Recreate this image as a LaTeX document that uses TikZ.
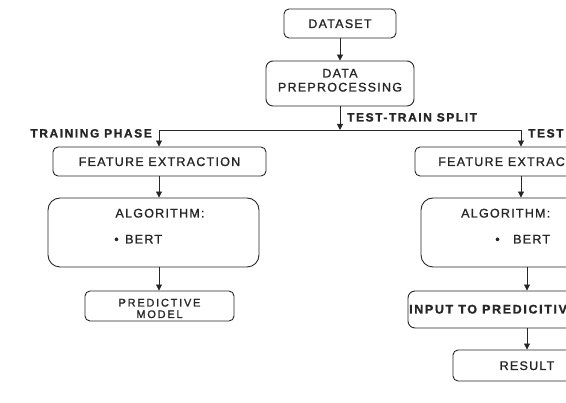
\documentclass[tikz,border=0pt]{standalone}
\usepackage{fontspec}
\setmainfont{Liberation Sans}[LetterSpace=10,FakeBold=1.2]
\usetikzlibrary{arrows.meta}
\begin{document}
\begin{tikzpicture}[x=1pt,y=-1pt,
  txt/.style={font=\fontsize{12.5}{14}\selectfont, text=black!85, text height=9pt, text depth=0pt, inner sep=0pt},
  lbl/.style={txt, font=\bfseries\fontsize{12}{14}\selectfont\addfontfeature{LetterSpace=13}},
  box/.style={txt, draw=black!85, line width=0.9pt, rounded corners=5pt},
  bigbox/.style={box, rounded corners=12pt},
  small/.style={txt, font=\fontsize{11}{12}\selectfont\addfontfeature{LetterSpace=16}, text height=8pt},
  conn/.style={draw=black!85, line width=0.9pt},
  arr/.style={conn, -{Triangle[width=6pt,length=6pt]}}]
\useasboundingbox (0,0) rectangle (566,403);
\clip (0,0) rectangle (566,403);
% top
\node[box, minimum width=112pt, minimum height=29pt] (ds) at (340,23.5) {DATASET};
\node[box, rounded corners=7pt, minimum width=148pt, minimum height=45pt] (dp) at (340,83.5) {};
\node[txt] (dpa) at (340,73) {DATA};
\node[txt] (dpb) at (340,87) {PREPROCESSING};
\draw[arr] (ds.south) -- (dp.north);
% split
\coordinate (sl) at (159,130);
\coordinate (sm) at (340,130);
\coordinate (sr) at (521,130);
\draw[conn] (sl) -- (sr);
\draw[arr] (dp.south) -- (sm);
\node[lbl, anchor=west] (tts) at (347,117) {TEST-TRAIN SPLIT};
\node[lbl, anchor=east] (tp) at (152,133) {TRAINING PHASE};
\node[lbl, anchor=west] (ts) at (528,133) {TEST};
% left column
\node[box, minimum width=213pt, minimum height=29pt] (fe1) at (159.5,161.5) {FEATURE EXTRACTION};
\node[bigbox, minimum width=211pt, minimum height=69pt] (alg1) at (153.5,232.5) {};
\node[txt] (a1t) at (160,213) {ALGORITHM:};
\node[txt] (a1d) at (116.5,239) {\textbullet};
\node[txt, anchor=west] (a1b) at (125,239) {BERT};
\node[box, minimum width=149pt, minimum height=30pt] (pm) at (159.5,306) {};
\node[small] (pma) at (159.5,302.5) {PREDICTIVE};
\node[small] (pmb) at (159.5,314) {MODEL};
\draw[arr] (sl) -- (sl |- fe1.north);
\draw[arr] (fe1.south -| sl) -- (sl |- alg1.north);
\draw[arr] (sl |- alg1.south) -- (sl |- pm.north);
% right column
\node[box, minimum width=208pt, minimum height=29pt] (fe2) at (519,161.5) {FEATURE EXTRACTION};
\node[bigbox, minimum width=211pt, minimum height=69pt] (alg2) at (526.5,232.5) {};
\node[txt, anchor=west] (a2t) at (461,213) {ALGORITHM:};
\node[txt] (a2d) at (497.5,239) {\textbullet};
\node[txt, anchor=west] (a2b) at (513,239) {BERT};
\node[box, rounded corners=7pt, minimum width=238pt, minimum height=37pt] (in2) at (527,309.5) {};
\node[txt, font=\bfseries\fontsize{12.5}{14}\selectfont\addfontfeature{LetterSpace=13}, anchor=west] (in2t) at (409,309) {INPUT TO PREDICITIVE};
\node[box, minimum width=148pt, minimum height=31pt] (res) at (527,365.5) {RESULT};
\draw[arr] (sr) -- (sr |- fe2.north);
\draw[arr] (sr |- fe2.south) -- (sr |- alg2.north);
\draw[arr] (res.north |- alg2.south) -- (res.north |- in2.north);
\draw[arr] (res.north |- in2.south) -- (res.north);
\end{tikzpicture}
\end{document}
